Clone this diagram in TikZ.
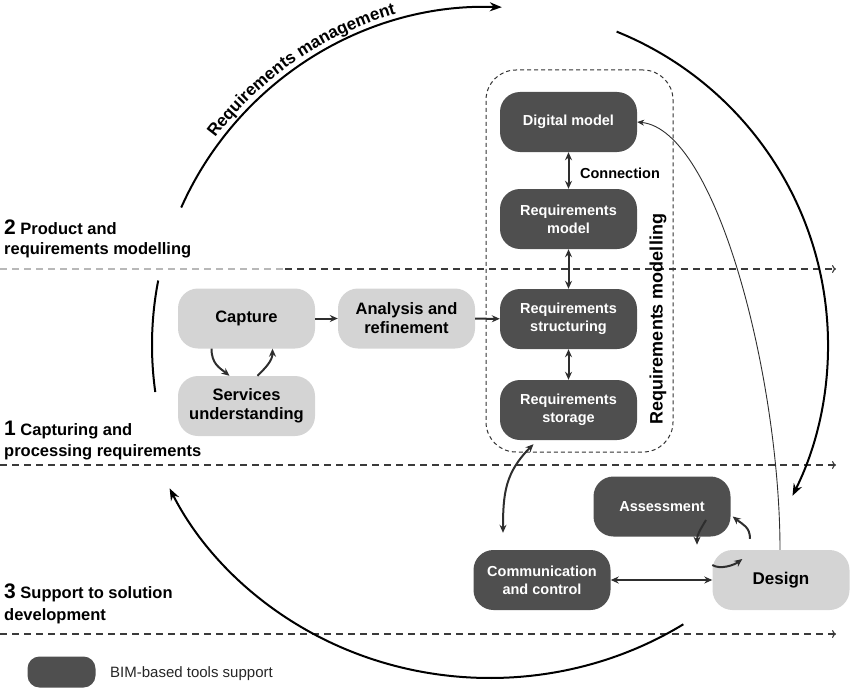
\documentclass[tikz,border=0pt]{standalone}
\usepackage{fontspec}
\setmainfont{Liberation Sans}
\usetikzlibrary{arrows.meta,decorations.text,calc}

\definecolor{boxdark}{HTML}{4F4F4F}
\definecolor{boxlight}{HTML}{D4D4D4}
\definecolor{linec}{HTML}{2E2E2E}
\definecolor{dashc}{HTML}{3A3A3A}
\definecolor{dashlight}{HTML}{B8B8B8}

\newcommand\arcfont{\bfseries\fontsize{17}{17}\selectfont}
\newcommand\stagenum{\bfseries\fontsize{21}{21}\selectfont}

\begin{document}
\begin{tikzpicture}[x=1pt,y=-1pt,
  darkbox/.style={fill=boxdark, rounded corners=20pt, minimum width=137pt,
    minimum height=60pt, inner sep=0pt, align=center, text=white,
    font=\bfseries\fontsize{14.5}{18}\selectfont},
  lightbox/.style={fill=boxlight, rounded corners=20pt, minimum width=137pt,
    minimum height=60pt, inner sep=0pt, align=center, text=black,
    font=\bfseries\fontsize{16.5}{19}\selectfont},
  sidelabel/.style={anchor=base west, inner sep=0pt,
    font=\bfseries\fontsize{16.5}{16.5}\selectfont},
  conn/.style={draw=linec, line width=2pt, -{Stealth[length=8pt,width=7pt]}},
  dconn/.style={draw=linec, line width=2pt,
    {Stealth[length=8pt,width=7pt]}-{Stealth[length=8pt,width=7pt]}},
  thinconn/.style={draw=linec, line width=0.9pt, -{Stealth[length=7pt,width=6pt]}},
  bigarc/.style={draw=black, line width=2pt, -{Stealth[length=12pt,width=9pt]}},
  plainarc/.style={draw=black, line width=2pt},
  stageline/.style={draw=dashc, line width=1.2pt, dash pattern=on 7pt off 5pt,
    -{To[length=4pt,width=8pt]}},
]
\useasboundingbox (0,0) rectangle (850,690);

% stage separators
\coordinate (l2a) at (0,269);
\coordinate (l2b) at (285,269);
\coordinate (l2c) at (836,269);
\coordinate (l1a) at (0,465);
\coordinate (l1b) at (836,465);
\coordinate (l3a) at (0,634);
\coordinate (l3b) at (836,634);
\draw[draw=dashlight, line width=1.2pt, dash pattern=on 7pt off 5pt] (l2a) -- (l2b);
\draw[stageline] (l2b) -- (l2c);
\draw[stageline] (l1a) -- (l1b);
\draw[stageline] (l3a) -- (l3b);

% stage labels
\node[sidelabel] (s2a) at (4,234) {{\stagenum 2} Product and};
\node[sidelabel] (s2b) at (4,254) {requirements modelling};
\node[sidelabel] (s1a) at (4,435) {{\stagenum 1} Capturing and};
\node[sidelabel] (s1b) at (4,456) {processing requirements};
\node[sidelabel] (s3a) at (4,598) {{\stagenum 3} Support to solution};
\node[sidelabel] (s3b) at (4,620) {development};

% requirements modelling group
\node[draw=black!80, line width=1pt, dash pattern=on 4pt off 3pt,
  rounded corners=30pt, minimum width=187pt, minimum height=382pt,
  inner sep=0pt] (rmgroup) at (579.5,261) {};
\node[rotate=90, inner sep=0pt, font=\bfseries\fontsize{18}{18}\selectfont]
  (rmlabel) at (658,319) {Requirements modelling};

% BIM-supported steps
\node[darkbox] (dm)  at (568.5,122) {Digital model};
\node[darkbox] (rm)  at (568.5,219) {Requirements\\model};
\node[darkbox] (rs)  at (568.5,319) {Requirements\\structuring};
\node[darkbox] (rst) at (568.5,410) {Requirements\\storage};
\node[darkbox] (assess) at (662,506.5) {Assessment};
\node[darkbox] (comm) at (542,580) {Communication\\and control};

% other steps
\node[lightbox] (capture)  at (246.5,318.5) {Capture};
\node[lightbox] (services) at (246.5,406) {Services\\understanding};
\node[lightbox] (analysis) at (406.5,318.5) {Analysis and\\refinement};
\node[lightbox, font=\bfseries\fontsize{17}{19}\selectfont] (design) at (781,580) {Design};

\node[font=\bfseries\fontsize{14.5}{14.5}\selectfont, inner sep=0pt] (connlabel) at (620,173) {Connection};

% links inside the modelling group
\draw[dconn] (dm) -- (rm);
\draw[dconn] (rm) -- (rs);
\draw[dconn] (rs) -- (rst);

% capture and analysis flow
\draw[conn] (capture) -- (analysis);
\draw[conn] (analysis) -- (rs);
\draw[conn] ([xshift=-35pt]capture.south) .. controls +(0,15) and +(-10,-8) .. ([xshift=-17pt]services.north);
\draw[conn] ([xshift=11pt]services.north) .. controls +(8,-8) and +(0,12) .. ([xshift=26pt]capture.south);

% storage, communication and design
\draw[dconn] ([xshift=-35pt,yshift=-4pt]rst.south) .. controls +(-28,28) and +(0,-40) .. ([xshift=-39pt,yshift=17pt]comm.north);
\draw[dconn] (comm) -- (design);
\draw[conn] ([xshift=44pt,yshift=-13.5pt]assess.center) .. controls +(-6,10) and +(0,-10) .. ([xshift=35pt,yshift=-8pt]assess.south);
\draw[conn] ([xshift=-31pt,yshift=11pt]design.north) .. controls +(0,-12) and +(10,8) .. ([xshift=2pt,yshift=-10pt]assess.east);
\draw[conn] ([yshift=15pt]design.west) .. controls +(8,5) and +(-8,6) .. ([xshift=30pt,yshift=21pt]design.west);
\draw[thinconn] ([xshift=-1pt]design.north) .. controls +(0,-170) and +(80,8) .. (dm.east);

% requirements management cycle
\coordinate (c) at (490,345);
\draw[bigarc] ($(c)+(-156:338)$) arc[start angle=-156, end angle=-88, radius=338];
\path[decorate, decoration={text along path, text align=left,
  text={|\arcfont|Requirements management}}]
  ($(c)+(-143:344)$) arc[start angle=-143, end angle=-75, radius=344];
\draw[bigarc] ($(c)+(-68:338)$) arc[start angle=-68, end angle=26.5, radius=338];
\draw[plainarc] ($(c)+(191:338)$) arc[start angle=191, end angle=172, radius=338];
\draw[bigarc] ($(c)+(57:355 and 333)$) arc[start angle=57, end angle=154.5, x radius=355, y radius=333];

% legend
\node[darkbox, minimum width=68pt, minimum height=31pt, rounded corners=12pt] (legendbox) at (61.5,672) {};
\node[anchor=base west, inner sep=0pt, text=black!85, font=\fontsize{15}{15}\selectfont] (legendtext) at (110,677) {BIM-based tools support};
\end{tikzpicture}
\end{document}
